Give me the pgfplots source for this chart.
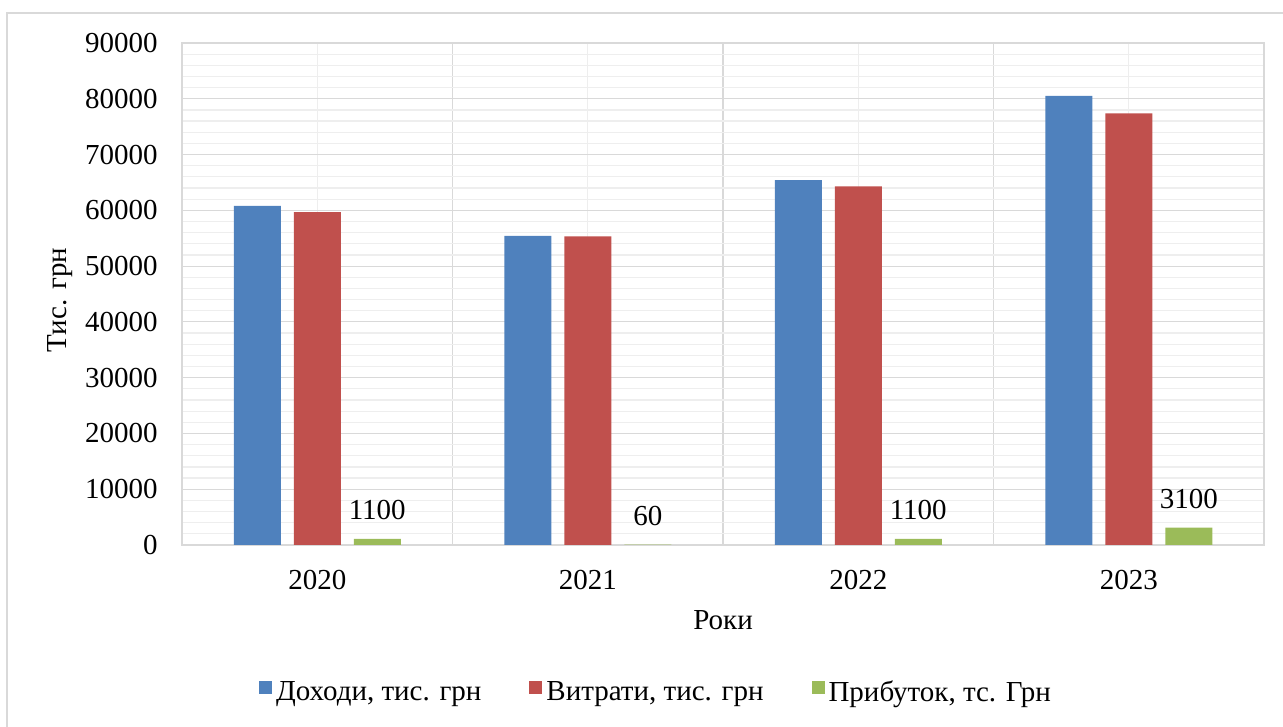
\documentclass[border=0pt]{standalone}
\usepackage{pgfplots}
\pgfplotsset{compat=1.18}
\usepackage{fontspec}
\setmainfont{Liberation Serif}
\definecolor{cblue}{RGB}{79,129,189}
\definecolor{cred}{RGB}{192,80,77}
\definecolor{cgreen}{RGB}{155,187,89}
\definecolor{gmaj}{RGB}{217,217,217}
\definecolor{gmin}{RGB}{238,238,238}
\begin{document}
\fontsize{14.5}{17}\selectfont
\begin{tikzpicture}
\path[use as bounding box] (0,0) rectangle (641.5pt,363.5pt);
\draw[gmaj, line width=0.75pt] (3.5pt,0) -- (3.5pt,357pt) -- (641.5pt,357pt);
\begin{axis}[
  at={(91pt,91pt)}, anchor=south west,
  scale only axis, width=541pt, height=251pt,
  font=\fontsize{14.5}{17}\selectfont,
  /pgf/number format/assume math mode=true,
  /pgf/number format/1000 sep={},
  scaled y ticks=false,
  ybar=6.5pt, bar width=23.5pt,
  ymin=0, ymax=90000, ytick={0,10000,...,90000},
  minor y tick num=4,
  xmin=-0.5, xmax=3.5,
  xtick={0,1,2,3}, xticklabels={2020,2021,2022,2023},
  minor xtick={-0.5,0.5,1.5,2.5,3.5},
  major tick length=0pt, minor tick length=0pt,
  xmajorgrids, xminorgrids, ymajorgrids, yminorgrids,
  every major x grid/.append style={draw=gmin, line width=0.6pt},
  every minor x grid/.append style={draw=gmaj, line width=0.6pt},
  every major y grid/.append style={draw=gmaj, line width=0.6pt},
  every minor y grid/.append style={draw=gmin, line width=0.6pt},
  axis line style={draw=gmaj, line width=0.6pt},
  xticklabel style={anchor=base, yshift=-22.5pt},
  yticklabel style={anchor=east, inner sep=0pt, xshift=-12pt},
  ylabel={Тис. грн},
  ylabel style={at={(axis description cs:-0.1128,0.488)}, anchor=center},
  xlabel={Роки},
  xlabel style={at={(axis description cs:0.5,-0.149)}, anchor=center},
  legend style={at={(axis description cs:0.439,-0.295)}, anchor=center,
    draw=none, fill=none, font=\fontsize{14.5}{17}\selectfont,
    /tikz/every even column/.append style={column sep=22pt}},
  legend columns=3,
  legend cell align=left,
  legend image code/.code={\fill[#1] (0pt,-0.5pt) rectangle (6.5pt,6pt);},
]
\addplot[fill=cblue, draw=none] coordinates {(0,60800) (1,55400) (2,65400) (3,80500)};
\addplot[fill=cred, draw=none] coordinates {(0,59700) (1,55340) (2,64300) (3,77400)};
\addplot[fill=cgreen, draw=none, nodes near coords,
  every node near coord/.append style={anchor=base, yshift=9.5pt, text=black,
    font=\fontsize{14.5}{17}\selectfont}]
  coordinates {(0,1100) (1,60) (2,1100) (3,3100)};
\legend{{Доходи, тис. грн}, {Витрати, тис. грн}, {Прибуток, тс. Грн}}
\end{axis}
\end{tikzpicture}
\end{document}
